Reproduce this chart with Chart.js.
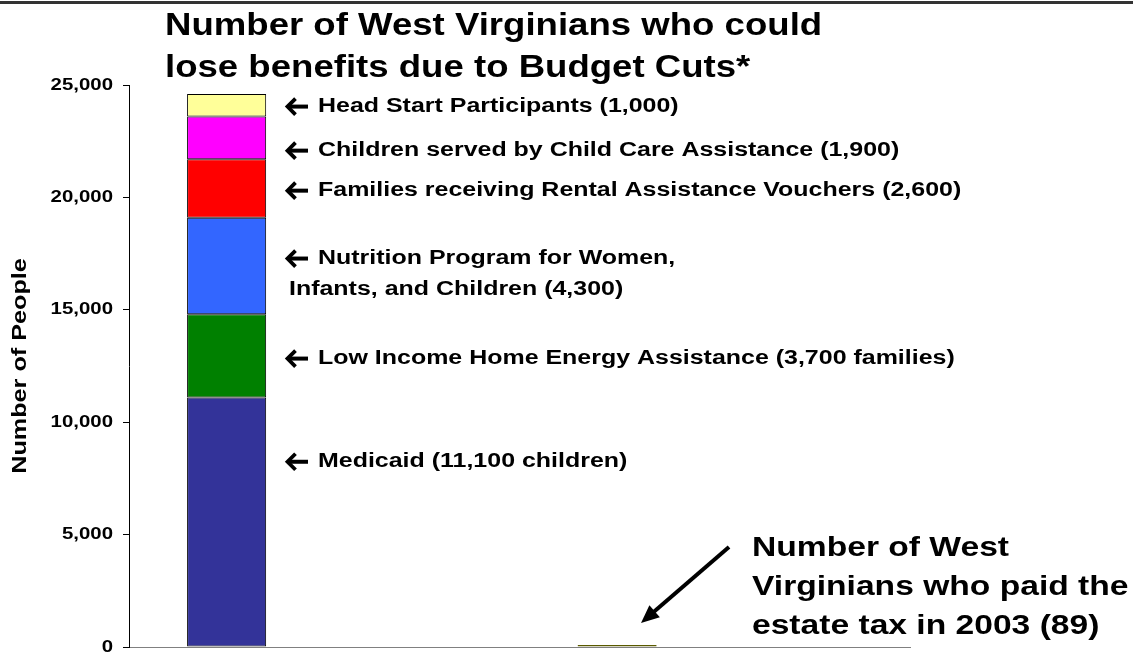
<!DOCTYPE html>
<html>
<head>
<meta charset="utf-8">
<script src="https://cdn.jsdelivr.net/npm/chart.js@4.4.1/dist/chart.umd.min.js"></script>
<style>
    html, body { margin: 0; padding: 0; background: #fff; }
    #wrap { width: 1133px; height: 656px; }
</style>
</head>
<body>
<div id="wrap"><canvas id="chart" width="1133" height="656"></canvas></div>
<script>
// Chart data
const categories = ['Could lose benefits', '', 'Paid estate tax', ''];
const programs = [
    'Medicaid',
    'Low Income Home Energy Assistance',
    'Nutrition Program for Women, Infants, and Children',
    'Rental Assistance Vouchers',
    'Child Care Assistance',
    'Head Start'
];
const programValues = [11100, 3700, 4300, 2600, 1900, 1000];
const programNotes = [
    ['Medicaid (11,100 children)'],
    ['Low Income Home Energy Assistance (3,700 families)'],
    ['Nutrition Program for Women,', 'Infants, and Children (4,300)'],
    ['Families receiving Rental Assistance Vouchers (2,600)'],
    ['Children served by Child Care Assistance (1,900)'],
    ['Head Start Participants (1,000)']
];
const estateTaxPayers = 89;
const yTicks = [0, 5000, 10000, 15000, 20000, 25000];
const titleLines = ['Number of West Virginians who could', 'lose benefits due to Budget Cuts*'];
const estateNote = ['Number of West', 'Virginians who paid the', 'estate tax in 2003 (89)'];

// Styles / layout
const programColors = ['#333399', '#008000', '#3366FF', '#FF0000', '#FF00FF', '#FFFF99'];
const estateColor = '#808000';
const noteAnchors = [8240, 12830, 17280, 20300, 22080, 24040]; // y value where each note sits
const FONT = '"Liberation Sans", Arial, sans-serif';

// the slide text is stretched along its baseline
function stretchedText(ctx, text, x, y, font, sx, align) {
    ctx.save();
    ctx.translate(x, y);
    ctx.scale(sx, 1);
    ctx.font = font;
    ctx.textAlign = align || 'left';
    ctx.textBaseline = 'middle';
    ctx.fillStyle = '#000';
    ctx.fillText(text, 0, 0);
    ctx.restore();
}

// Wingdings-like bold left arrow
function smallArrow(ctx, x, y) {
    ctx.save();
    ctx.strokeStyle = '#000';
    ctx.fillStyle = '#000';
    ctx.lineWidth = 3.8;
    ctx.lineJoin = 'miter';
    ctx.beginPath();
    ctx.moveTo(x + 9.5, y - 8);
    ctx.lineTo(x + 1.5, y);
    ctx.lineTo(x + 9.5, y + 8);
    ctx.stroke();
    ctx.fillRect(x + 2, y - 2, 20, 4);
    ctx.restore();
}

const slideText = {
    id: 'slideText',
    afterDraw(chart) {
        const ctx = chart.ctx;
        const y = chart.scales.y;

        // border line at top of slide
        ctx.fillStyle = '#333';
        ctx.fillRect(0, 1, chart.width, 3);

        // title
        titleLines.forEach((line, i) => {
            stretchedText(ctx, line, 165, 26 + i * 42, 'bold 31px ' + FONT, 1.18);
        });

        // y tick labels
        y.ticks.forEach(t => {
            stretchedText(ctx, t.value.toLocaleString('en-US'), 113, y.getPixelForValue(t.value), 'bold 17px ' + FONT, 1.2, 'right');
        });

        // y axis title
        ctx.save();
        ctx.translate(20, (chart.chartArea.top + chart.chartArea.bottom) / 2);
        ctx.rotate(-Math.PI / 2);
        ctx.scale(1.2, 1);
        ctx.font = 'bold 21px ' + FONT;
        ctx.textAlign = 'center';
        ctx.textBaseline = 'middle';
        ctx.fillStyle = '#000';
        ctx.fillText('Number of People', 0, 0);
        ctx.restore();

        // notes next to the stacked bar
        programNotes.forEach((lines, i) => {
            const py = y.getPixelForValue(noteAnchors[i]);
            smallArrow(ctx, 286, py);
            stretchedText(ctx, lines[0], 318, py, 'bold 19.5px ' + FONT, 1.28);
            if (lines[1]) stretchedText(ctx, lines[1], 289, py + 31, 'bold 19.5px ' + FONT, 1.28);
        });

        // estate tax note with arrow
        estateNote.forEach((line, i) => {
            stretchedText(ctx, line, 752, 548 + i * 39, 'bold 28px ' + FONT, 1.2);
        });
        const x0 = 729, y0 = 547, x1 = 641, y1 = 623;
        const ang = Math.atan2(y1 - y0, x1 - x0);
        ctx.save();
        ctx.strokeStyle = '#000';
        ctx.fillStyle = '#000';
        ctx.lineWidth = 4;
        ctx.beginPath();
        ctx.moveTo(x0, y0);
        ctx.lineTo(x1 - 14 * Math.cos(ang), y1 - 14 * Math.sin(ang));
        ctx.stroke();
        ctx.beginPath();
        ctx.moveTo(x1, y1);
        ctx.lineTo(x1 - 18 * Math.cos(ang) + 8 * Math.sin(ang), y1 - 18 * Math.sin(ang) - 8 * Math.cos(ang));
        ctx.lineTo(x1 - 18 * Math.cos(ang) - 8 * Math.sin(ang), y1 - 18 * Math.sin(ang) + 8 * Math.cos(ang));
        ctx.closePath();
        ctx.fill();
        ctx.restore();
    }
};

const datasets = programs.map((name, i) => ({
    label: name,
    data: [programValues[i], null, null, null],
    backgroundColor: programColors[i],
    borderColor: '#000',
    borderWidth: 1,
    borderSkipped: false
}));
datasets.push({
    label: 'Estate tax payers',
    data: [null, null, estateTaxPayers, null],
    backgroundColor: estateColor,
    borderColor: '#5a5a00',
    borderWidth: 1,
    borderSkipped: false
});

new Chart(document.getElementById('chart'), {
    type: 'bar',
    data: { labels: categories, datasets: datasets },
    options: {
        responsive: false,
        animation: false,
        layout: { padding: { top: 85, right: 223, bottom: 9, left: 0 } },
        datasets: { bar: { barPercentage: 0.405, categoryPercentage: 1 } },
        plugins: { legend: { display: false }, tooltip: { enabled: false } },
        scales: {
            x: {
                stacked: true,
                grid: { display: false },
                border: { display: true, color: '#808080', width: 1 },
                ticks: { display: false },
                afterFit: s => { s.height = 0; }
            },
            y: {
                stacked: true,
                min: 0,
                max: 25000,
                afterBuildTicks: s => { s.ticks = yTicks.map(v => ({ value: v })); },
                grid: { drawOnChartArea: false, drawTicks: true, tickLength: 6, color: '#000' },
                border: { display: true, color: '#000', width: 1 },
                ticks: { display: false },
                afterFit: s => { s.width = 129; }
            }
        }
    },
    plugins: [slideText]
});
</script>
</body>
</html>
